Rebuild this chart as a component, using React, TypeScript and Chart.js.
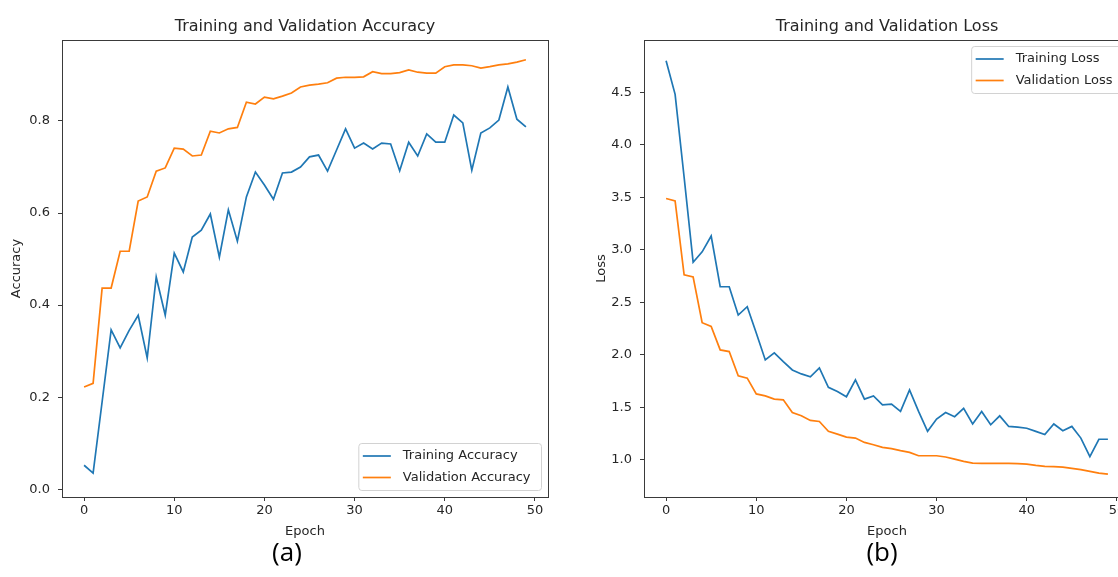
import React, { useEffect, useRef } from "react";
import { Chart, registerables } from "chart.js";

Chart.register(...registerables);

// ---------------- data ----------------
const TRAIN_ACC = [
  0.052, 0.035, 0.19, 0.346, 0.307, 0.345, 0.378, 0.285, 0.461, 0.378,
  0.513, 0.472, 0.548, 0.563, 0.598, 0.504, 0.607, 0.539, 0.635, 0.689,
  0.661, 0.63, 0.687, 0.689, 0.7, 0.722, 0.726, 0.691, 0.737, 0.783,
  0.741, 0.752, 0.739, 0.752, 0.75, 0.692, 0.754, 0.724, 0.772, 0.754,
  0.754, 0.813, 0.796, 0.693, 0.774, 0.785, 0.802, 0.874, 0.804, 0.787,
];
const VAL_ACC = [
  0.222, 0.23, 0.437, 0.437, 0.517, 0.517, 0.626, 0.635, 0.691, 0.698,
  0.741, 0.739, 0.724, 0.726, 0.778, 0.774, 0.783, 0.786, 0.841, 0.837,
  0.852, 0.848, 0.854, 0.861, 0.874, 0.878, 0.88, 0.883, 0.893, 0.895,
  0.895, 0.896, 0.907, 0.903, 0.903, 0.905, 0.911, 0.906, 0.904, 0.904,
  0.918, 0.922, 0.922, 0.92, 0.915, 0.918, 0.922, 0.924, 0.928, 0.933,
];
const TRAIN_LOSS = [
  4.8, 4.48, 3.69, 2.88, 2.98, 3.13, 2.647, 2.647, 2.378, 2.457,
  2.207, 1.95, 2.017, 1.934, 1.855, 1.817, 1.79, 1.875, 1.69, 1.65,
  1.6, 1.76, 1.577, 1.608, 1.523, 1.53, 1.46, 1.665, 1.46, 1.27,
  1.387, 1.45, 1.41, 1.49, 1.34, 1.46, 1.333, 1.418, 1.317, 1.31,
  1.3, 1.27, 1.24, 1.34, 1.276, 1.317, 1.206, 1.03, 1.195, 1.195,
];
const VAL_LOSS = [
  3.488, 3.465, 2.76, 2.74, 2.305, 2.27, 2.046, 2.03, 1.8, 1.777,
  1.627, 1.608, 1.577, 1.57, 1.45, 1.418, 1.374, 1.364, 1.27, 1.244,
  1.215, 1.206, 1.165, 1.143, 1.117, 1.105, 1.086, 1.07, 1.038, 1.038,
  1.038, 1.026, 1.006, 0.984, 0.968, 0.966, 0.965, 0.965, 0.965, 0.963,
  0.958, 0.946, 0.936, 0.934, 0.93, 0.918, 0.905, 0.889, 0.872, 0.862,
];

const X_TICKS_STEP = 10;
const ACC_TICK_STEP = 0.2;
const LOSS_TICK_STEP = 0.5;

const BLUE = "#1f77b4";
const ORANGE = "#ff7f0e";
const TEXT = "#262626";
const AXIS = "#3a3a3a";
const FONT = '"DejaVu Sans", sans-serif';

// ---------------- plugins ----------------
const framePlugin = {
  id: "mplFrame",
  afterDatasetsDraw(chart: any) {
    const { ctx, chartArea: a } = chart;
    ctx.save();
    ctx.strokeStyle = AXIS;
    ctx.lineWidth = 1;
    ctx.strokeRect(
      Math.round(a.left) + 0.5,
      Math.round(a.top) + 0.5,
      Math.round(a.right - a.left),
      Math.round(a.bottom - a.top)
    );
    ctx.restore();
  },
};

const legendPlugin = {
  id: "mplLegend",
  afterDraw(chart: any, _args: any, opts: any) {
    const { ctx, chartArea: a } = chart;
    const fs = 13;
    ctx.save();
    ctx.font = `${fs}px ${FONT}`;
    const items = chart.data.datasets.map((d: any) => ({
      label: d.label,
      color: d.borderColor,
    }));
    const textW = Math.max(...items.map((i: any) => ctx.measureText(i.label).width));
    const w = textW + 55;
    const h = 47;
    const pad = 6.5;
    const x = a.right - pad - w;
    const y = opts.corner === "upper" ? a.top + pad : a.bottom - pad - h;
    const r = 3;
    ctx.beginPath();
    ctx.moveTo(x + r, y);
    ctx.lineTo(x + w - r, y);
    ctx.arcTo(x + w, y, x + w, y + r, r);
    ctx.lineTo(x + w, y + h - r);
    ctx.arcTo(x + w, y + h, x + w - r, y + h, r);
    ctx.lineTo(x + r, y + h);
    ctx.arcTo(x, y + h, x, y + h - r, r);
    ctx.lineTo(x, y + r);
    ctx.arcTo(x, y, x + r, y, r);
    ctx.closePath();
    ctx.fillStyle = "rgba(255,255,255,0.85)";
    ctx.fill();
    ctx.strokeStyle = "#d2d2d2";
    ctx.lineWidth = 1;
    ctx.stroke();
    const rows = [12.5, 34];
    items.forEach((it: any, i: number) => {
      const ry = y + rows[i];
      ctx.strokeStyle = it.color;
      ctx.lineWidth = 1.7;
      ctx.beginPath();
      ctx.moveTo(x + 4, ry);
      ctx.lineTo(x + 32, ry);
      ctx.stroke();
      ctx.fillStyle = TEXT;
      ctx.textAlign = "left";
      ctx.textBaseline = "middle";
      ctx.fillText(it.label, x + 44, ry);
    });
    ctx.restore();
  },
};

// ---------------- config builder ----------------
function buildConfig(p: {
  title: string;
  yTitle: string;
  yTitlePad: number;
  yWidth: number;
  rightPad: number;
  yMin: number;
  yMax: number;
  yStep: number;
  train: number[];
  val: number[];
  trainLabel: string;
  valLabel: string;
  legendCorner: string;
}) {
  const tickFont = { family: FONT, size: 13 };
  return {
    type: "line",
    data: {
      datasets: [
        {
          label: p.trainLabel,
          data: p.train.map((v, i) => ({ x: i, y: v })),
          borderColor: BLUE,
          backgroundColor: BLUE,
          borderWidth: 1.7,
          pointRadius: 0,
          tension: 0,
        },
        {
          label: p.valLabel,
          data: p.val.map((v, i) => ({ x: i, y: v })),
          borderColor: ORANGE,
          backgroundColor: ORANGE,
          borderWidth: 1.7,
          pointRadius: 0,
          tension: 0,
        },
      ],
    },
    options: {
      responsive: false,
      animation: false,
      devicePixelRatio: 1,
      layout: { padding: { left: 0, right: p.rightPad, top: 0, bottom: 0 } },
      plugins: {
        legend: { display: false },
        tooltip: { enabled: false },
        title: {
          display: true,
          text: p.title,
          fullSize: false,
          color: TEXT,
          font: { family: FONT, size: 16, weight: "normal", lineHeight: 1.2 },
          padding: { top: 17.4, bottom: 3.4 },
        },
        mplLegend: { corner: p.legendCorner },
      },
      scales: {
        x: {
          type: "linear",
          min: -2.45,
          max: 51.45,
          afterFit: (s: any) => {
            s.height = 80;
          },
          ticks: {
            stepSize: X_TICKS_STEP,
            includeBounds: false,
            color: TEXT,
            font: tickFont,
            padding: 2,
            maxRotation: 0,
            callback: (v: any) => String(v),
          },
          grid: {
            display: true,
            drawOnChartArea: false,
            drawTicks: true,
            tickLength: 4,
            color: AXIS,
          },
          border: { display: true, color: AXIS, width: 1 },
          title: {
            display: true,
            text: "Epoch",
            color: TEXT,
            font: { family: FONT, size: 13, lineHeight: 1.2 },
            padding: { top: 0, bottom: 38 },
          },
        },
        y: {
          type: "linear",
          min: p.yMin,
          max: p.yMax,
          afterFit: (s: any) => {
            s.width = p.yWidth;
          },
          ticks: {
            stepSize: p.yStep,
            includeBounds: false,
            color: TEXT,
            font: tickFont,
            padding: 8,
            callback: (v: any) => Number(v).toFixed(1),
          },
          grid: {
            display: true,
            drawOnChartArea: false,
            drawTicks: true,
            tickLength: 4,
            color: AXIS,
          },
          border: { display: true, color: AXIS, width: 1 },
          title: {
            display: true,
            text: p.yTitle,
            color: TEXT,
            font: { family: FONT, size: 13, lineHeight: 1.2 },
            padding: { top: p.yTitlePad, bottom: 0 },
          },
        },
      },
    },
    plugins: [framePlugin, legendPlugin],
  } as any;
}

export default function App() {
  const leftRef = useRef<HTMLCanvasElement>(null);
  const rightRef = useRef<HTMLCanvasElement>(null);

  useEffect(() => {
    const left = new Chart(
      leftRef.current as HTMLCanvasElement,
      buildConfig({
        title: "Training and Validation Accuracy",
        yTitle: "Accuracy",
        yTitlePad: 9,
        yWidth: 62,
        rightPad: 12,
        yMin: -0.017,
        yMax: 0.976,
        yStep: ACC_TICK_STEP,
        train: TRAIN_ACC,
        val: VAL_ACC,
        trainLabel: "Training Accuracy",
        valLabel: "Validation Accuracy",
        legendCorner: "lower",
      })
    );
    const right = new Chart(
      rightRef.current as HTMLCanvasElement,
      buildConfig({
        title: "Training and Validation Loss",
        yTitle: "Loss",
        yTitlePad: 34,
        yWidth: 84,
        rightPad: 30,
        yMin: 0.645,
        yMax: 4.997,
        yStep: LOSS_TICK_STEP,
        train: TRAIN_LOSS,
        val: VAL_LOSS,
        trainLabel: "Training Loss",
        valLabel: "Validation Loss",
        legendCorner: "upper",
      })
    );
    return () => {
      left.destroy();
      right.destroy();
    };
  }, []);

  const caption = (text: string, cx: number) => (
    <div
      style={{
        position: "absolute",
        left: cx - 50,
        top: 536,
        width: 100,
        height: 30,
        lineHeight: "30px",
        textAlign: "center",
        fontFamily: '"Open Sans", "Noto Sans", sans-serif',
        fontSize: 26,
        color: "#000",
      }}
    >
      {text}
    </div>
  );

  return (
    <div
      style={{
        position: "fixed",
        left: 0,
        top: 0,
        width: 1118,
        height: 577,
        overflow: "hidden",
        background: "#fff",
      }}
    >
      <canvas
        ref={leftRef}
        width={560}
        height={577}
        style={{ position: "absolute", left: 0, top: 0, width: 560, height: 577 }}
      />
      <canvas
        ref={rightRef}
        width={600}
        height={577}
        style={{ position: "absolute", left: 560, top: 0, width: 600, height: 577 }}
      />
      {caption("(a)", 287)}
      {caption("(b)", 882)}
    </div>
  );
}
